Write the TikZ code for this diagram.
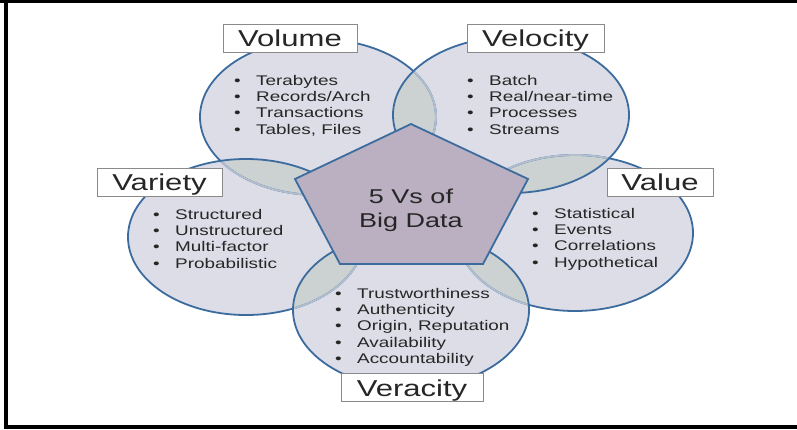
\documentclass[tikz,border=0pt]{standalone}
\usepackage{fontspec}
\setmainfont[FakeStretch=1.35]{Liberation Sans}
\usepackage{tikz}
\definecolor{ringblue}{HTML}{3C6C9E}
\definecolor{ringpale}{HTML}{B3BFCE}
\definecolor{ringfill}{HTML}{DDDDE8}
\definecolor{overlapfill}{HTML}{CCD1D2}
\definecolor{pentfill}{HTML}{BAB0C1}
\definecolor{boxgray}{HTML}{8A8A8A}
\definecolor{textdark}{HTML}{262626}

\newcommand{\vitem}[1]{\makebox[22pt][l]{\textbullet}#1}

\begin{document}
\begin{tikzpicture}[
    x=1pt, y=-1pt,
    ring/.style={x radius=118pt, y radius=78pt},
    ringedge/.style={draw=ringblue, line width=1.8pt},
    ringfaint/.style={draw=ringpale, line width=1.8pt},
    title/.style={rectangle, draw=boxgray, fill=white, line width=0.9pt, minimum height=28pt, inner sep=0pt, text height=17pt, text depth=0pt, text=textdark, font=\fontsize{23}{26}\selectfont},
    items/.style={anchor=north west, align=left, inner sep=0pt, text=textdark, font=\fontsize{14}{16.3}\selectfont}
]
\useasboundingbox (0,0) rectangle (797,429);

% Frame
\fill (0,0) rectangle (797,2.7);
\fill (4,0) rectangle (8,429);
\fill (4,424.5) rectangle (797,429);

% Ring centres
\coordinate (volume) at (318,117);
\coordinate (value) at (575,233);
\coordinate (variety) at (246,237);
\coordinate (velocity) at (511,115);
\coordinate (veracity) at (411,310);

% Ring fills
\foreach \r in {volume,value,variety,velocity,veracity}
  \fill[ringfill] (\r) ellipse[ring];

% Overlaps
\foreach \a/\b in {volume/variety, volume/velocity, value/velocity, variety/veracity, value/veracity}{
  \begin{scope}
    \clip (\a) ellipse[ring];
    \fill[overlapfill] (\b) ellipse[ring];
  \end{scope}
}

% Ring outlines, each one over the ones before
\draw[ringedge] (volume) ellipse[ring];
\draw[ringedge] (value) ellipse[ring];
\begin{scope}
  \clip (variety) ellipse[ring];
  \draw[ringfaint] (volume) ellipse[ring];
\end{scope}
\draw[ringedge] (variety) ellipse[ring];
\begin{scope}
  \clip (velocity) ellipse[ring];
  \draw[ringfaint] (volume) ellipse[ring];
  \draw[ringfaint] (value) ellipse[ring];
\end{scope}
\draw[ringedge] (velocity) ellipse[ring];
\begin{scope}
  \clip (veracity) ellipse[ring];
  \draw[ringfaint] (variety) ellipse[ring];
  \draw[ringfaint] (value) ellipse[ring];
\end{scope}
\draw[ringedge] (veracity) ellipse[ring];

% Centre
\draw[ringedge, fill=pentfill] (411,124) -- (528,179) -- (483,264) -- (340,264) -- (295,179) -- cycle;
\node[align=center, text=textdark, font=\fontsize{20}{24}\selectfont] (hub) at (411,210) {5 Vs of\\Big Data};

% Titles
\node[title, minimum width=134pt] (volumetitle) at (290,38) {Volume};
\node[title, minimum width=137pt] (velocitytitle) at (535.5,38) {Velocity};
\node[title, minimum width=125pt] (varietytitle) at (159.5,182) {Variety};
\node[title, minimum width=106pt] (valuetitle) at (660,182) {Value};
\node[title, minimum width=142pt] (veracitytitle) at (412,387.5) {Veracity};

% Lists
\node[items] (volumelist) at (234,75) {\vitem{Terabytes}\\\vitem{Records/Arch}\\\vitem{Transactions}\\\vitem{Tables, Files}};
\node[items] (velocitylist) at (467,75) {\vitem{Batch}\\\vitem{Real/near-time}\\\vitem{Processes}\\\vitem{Streams}};
\node[items] (varietylist) at (153,209) {\vitem{Structured}\\\vitem{Unstructured}\\\vitem{Multi-factor}\\\vitem{Probabilistic}};
\node[items] (valuelist) at (532,208) {\vitem{Statistical}\\\vitem{Events}\\\vitem{Correlations}\\\vitem{Hypothetical}};
\node[items] (veracitylist) at (335,288) {\vitem{Trustworthiness}\\\vitem{Authenticity}\\\vitem{Origin, Reputation}\\\vitem{Availability}\\\vitem{Accountability}};

\end{tikzpicture}
\end{document}
